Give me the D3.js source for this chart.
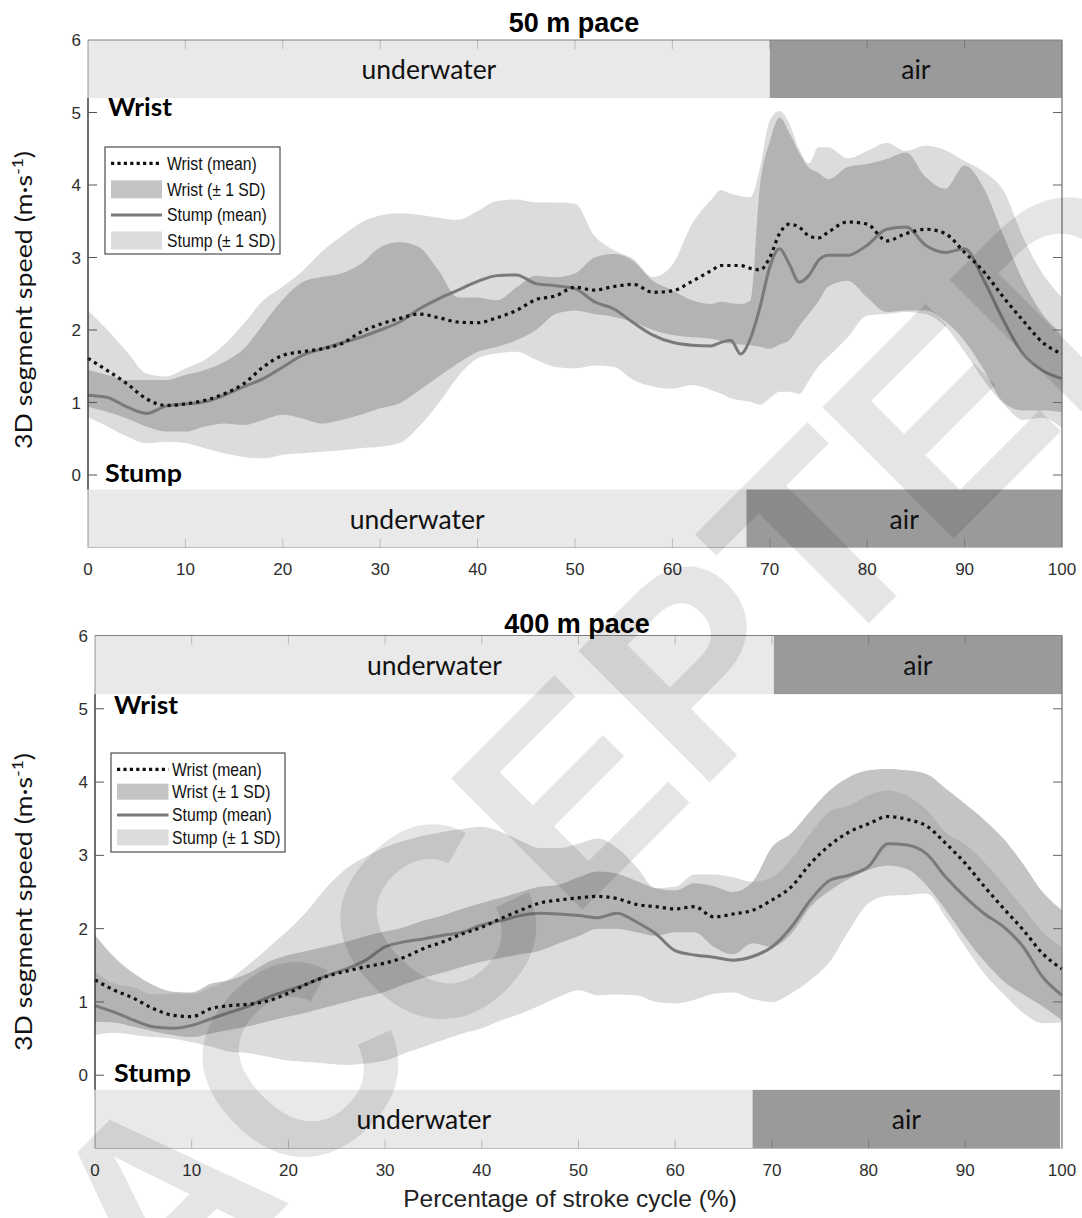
<!DOCTYPE html>
<html>
<head>
<meta charset="utf-8">
<script src="https://cdn.jsdelivr.net/npm/d3@7"></script>
<style>
  html, body { margin: 0; padding: 0; background: #fff; }
  svg { display: block; }
</style>
</head>
<body>
<svg id="chart" width="1082" height="1218"></svg>
<script>
// ---------------------------------------------------------------
// Segment speed (m/s) over the stroke cycle, mean and ±1 SD bands
// ---------------------------------------------------------------

const xTicks = [0, 10, 20, 30, 40, 50, 60, 70, 80, 90, 100];
const yTicks = [0, 1, 2, 3, 4, 5, 6];

// Phase strips: wrist strip above the data, stump strip below it
const wristStripRange = [5.2, 6];
const stumpStripRange = [-1, -0.2];
const phaseNames = ["underwater", "air"];

// ---- 50 m pace ----
const pace50AirStart = [70.0, 67.6];   // wrist, stump (% of cycle)
const pace50X = [0,2,4,6,8,10,12,14,16,18,20,22,24,26,28,30,32,34,36,38,40,42,44,46,48,50,52,54,56,58,60,62,64,
  65,66,67,68,69,70,71,72,73,74,75,
  76,78,80,82,84,86,88,90,92,94,96,98,100];
const pace50WristMean = [1.61,1.44,1.26,1.05,0.96,0.98,1.03,1.12,1.26,1.49,1.65,1.70,1.74,1.81,1.97,2.08,2.16,2.22,2.17,2.11,2.10,2.17,2.27,2.42,2.47,2.59,2.55,2.60,2.63,2.52,2.54,2.67,2.82,
  2.89,2.89,2.89,2.85,2.83,3.00,3.33,3.46,3.42,3.30,3.27,
  3.35,3.49,3.46,3.23,3.33,3.39,3.33,3.07,2.80,2.45,2.13,1.83,1.67];
const pace50WristLow = [0.94,0.87,0.78,0.67,0.60,0.60,0.67,0.71,0.69,0.76,0.83,0.78,0.71,0.76,0.83,0.92,0.99,1.17,1.36,1.54,1.70,1.77,1.86,2.00,2.22,2.27,2.22,2.18,2.11,2.00,1.93,1.90,1.88,
  1.85,1.81,1.80,1.79,1.77,1.74,1.80,1.86,2.05,2.22,2.40,
  2.60,2.68,2.45,2.25,2.27,2.27,2.12,1.85,1.45,1.00,0.89,0.89,0.87];
const pace50WristHigh = [1.45,1.38,1.31,1.31,1.31,1.38,1.45,1.56,1.74,2.08,2.42,2.66,2.73,2.78,2.91,3.14,3.21,3.14,2.82,2.45,2.45,2.41,2.59,2.75,2.73,2.78,3.00,3.05,2.95,2.68,2.55,2.41,2.36,
  2.39,2.37,2.36,2.40,4.00,4.60,4.93,4.72,4.45,4.24,4.17,
  4.08,4.25,4.29,4.36,4.45,4.11,3.95,4.27,3.95,3.30,2.68,2.22,1.95];
const pace50StumpMean = [1.10,1.07,0.94,0.85,0.95,0.98,1.01,1.10,1.22,1.33,1.49,1.65,1.74,1.82,1.90,2.00,2.11,2.29,2.43,2.55,2.67,2.75,2.76,2.64,2.61,2.57,2.39,2.29,2.10,1.93,1.83,1.79,1.78,
  1.83,1.86,1.67,1.88,2.32,2.87,3.12,2.91,2.66,2.75,2.96,
  3.03,3.03,3.17,3.39,3.42,3.17,3.07,3.12,2.68,2.13,1.67,1.44,1.33];
const pace50StumpLow = [0.80,0.67,0.53,0.44,0.46,0.44,0.37,0.30,0.25,0.23,0.28,0.30,0.32,0.34,0.37,0.39,0.44,0.67,0.99,1.36,1.61,1.68,1.70,1.59,1.49,1.47,1.51,1.49,1.31,1.22,1.19,1.24,1.17,
  1.12,1.06,1.03,1.01,0.97,1.06,1.15,1.15,1.12,1.30,1.50,
  1.63,1.90,2.20,2.22,2.25,2.22,2.05,1.70,1.30,0.98,0.76,0.79,0.65];
const pace50StumpHigh = [2.27,2.00,1.70,1.40,1.36,1.47,1.59,1.80,2.09,2.41,2.60,2.81,3.08,3.29,3.48,3.58,3.61,3.59,3.55,3.52,3.64,3.78,3.80,3.76,3.76,3.74,3.30,3.10,2.98,2.73,2.90,3.46,3.80,
  3.93,3.88,3.85,3.83,4.24,4.89,5.02,4.85,4.50,4.30,4.52,
  4.52,4.37,4.47,4.58,4.47,4.54,4.48,4.33,4.18,3.92,3.28,2.78,2.45];

// ---- 400 m pace ----
const pace400AirStart = [70.2, 68.0];  // wrist, stump (% of cycle)
const pace400StumpStripEnd = 99.8;
const pace400X = [0,2,4,6,8,10,12,14,16,18,20,22,24,26,28,30,32,34,36,38,40,42,44,46,48,50,
  52,54,56,58,60,62,64,66,68,70,72,74,76,78,80,82,84,86,88,90,92,94,96,98,100];
const pace400WristMean = [1.30,1.16,1.05,0.91,0.82,0.80,0.91,0.95,0.97,1.02,1.12,1.25,1.35,1.42,1.48,1.53,1.61,1.73,1.82,1.93,2.02,2.14,2.25,2.35,2.39,2.42,
  2.44,2.41,2.33,2.30,2.27,2.30,2.16,2.20,2.25,2.39,2.57,2.89,3.14,3.32,3.43,3.53,3.49,3.40,3.16,2.89,2.57,2.27,1.98,1.66,1.45];
const pace400WristLow = [0.73,0.72,0.66,0.60,0.55,0.52,0.57,0.62,0.67,0.74,0.80,0.86,0.93,1.00,1.07,1.14,1.24,1.33,1.40,1.48,1.55,1.60,1.65,1.70,1.80,1.90,
  2.00,2.00,1.95,1.90,1.95,1.95,1.75,1.65,1.80,1.75,1.93,2.30,2.52,2.68,2.80,2.86,2.81,2.59,2.25,1.88,1.55,1.28,1.10,0.94,0.75];
const pace400WristHigh = [1.91,1.61,1.39,1.23,1.14,1.13,1.25,1.30,1.40,1.55,1.64,1.70,1.76,1.82,1.90,1.96,2.02,2.11,2.18,2.27,2.35,2.42,2.50,2.57,2.60,2.70,
  2.78,2.75,2.65,2.55,2.52,2.62,2.58,2.50,2.64,3.11,3.30,3.61,3.89,4.07,4.16,4.18,4.16,4.11,3.91,3.70,3.48,3.22,2.88,2.50,2.25];
const pace400StumpMean = [0.95,0.86,0.75,0.66,0.64,0.68,0.77,0.86,0.95,1.07,1.16,1.25,1.36,1.45,1.57,1.75,1.82,1.86,1.91,1.95,2.05,2.11,2.18,2.21,2.20,2.18,
  2.15,2.21,2.09,1.93,1.70,1.64,1.61,1.57,1.62,1.75,2.02,2.39,2.66,2.73,2.85,3.16,3.14,3.02,2.70,2.43,2.20,2.02,1.75,1.34,1.09];
const pace400StumpLow = [0.55,0.58,0.55,0.52,0.50,0.45,0.39,0.32,0.30,0.25,0.20,0.18,0.16,0.14,0.16,0.20,0.30,0.39,0.48,0.57,0.64,0.75,0.84,0.95,1.07,1.16,
  1.09,1.10,1.09,1.00,0.98,1.03,1.11,1.13,1.04,1.00,1.12,1.30,1.55,1.98,2.35,2.45,2.46,2.48,2.15,1.75,1.38,1.10,0.85,0.71,0.72];
const pace400StumpHigh = [1.41,1.25,1.20,1.10,1.11,1.11,1.20,1.32,1.52,1.75,1.98,2.25,2.57,2.82,2.98,3.11,3.20,3.27,3.32,3.36,3.39,3.32,3.20,3.10,3.10,3.16,
  3.23,3.10,2.84,2.55,2.57,2.74,2.74,2.70,2.64,2.70,2.95,3.30,3.60,3.68,3.82,3.89,3.81,3.62,3.31,3.15,2.90,2.60,2.28,1.95,1.75];

const legendLabels = ["Wrist (mean)", "Wrist (\u00b1 1 SD)", "Stump (mean)", "Stump (\u00b1 1 SD)"];

// ---------------------------------------------------------------
const svg = d3.select("#chart");
const SANS = "'Liberation Sans', Arial, Helvetica, sans-serif";
const HUMANIST = "Lato, 'Open Sans', sans-serif";

const colors = {
  underwater: "#e9e9e9",
  air: "#9a9a9a",
  stumpBand: "#dcdcdc",
  wristBand: "rgba(137,137,137,0.5)",
  stumpLine: "#7a7a7a",
  wristLine: "#111111"
};

function zipSeries(xs, lo, hi) {
  return xs.map((v, i) => ({ x: v, lo: lo[i], hi: hi[i] }));
}
function zipLine(xs, ys) {
  return xs.map((v, i) => ({ x: v, y: ys[i] }));
}

function drawPanel(cfg) {
  const x = d3.scaleLinear().domain([0, 100]).range([cfg.left, cfg.right]);
  const y = d3.scaleLinear().domain([-1, 6]).range([cfg.bottom, cfg.top]);
  const g = svg.append("g");

  const band = d3.area()
    .x(d => x(d.x)).y0(d => y(d.lo)).y1(d => y(d.hi))
    .curve(d3.curveMonotoneX);
  const line = d3.line()
    .x(d => x(d.x)).y(d => y(d.y))
    .curve(d3.curveMonotoneX);

  // ±1 SD bands
  g.append("path").datum(zipSeries(cfg.xs, cfg.stumpLow, cfg.stumpHigh))
    .attr("d", band).attr("fill", colors.stumpBand);
  g.append("path").datum(zipSeries(cfg.xs, cfg.wristLow, cfg.wristHigh))
    .attr("d", band).attr("fill", colors.wristBand);

  // Means
  g.append("path").datum(zipLine(cfg.xs, cfg.stumpMean))
    .attr("d", line).attr("fill", "none")
    .attr("stroke", colors.stumpLine).attr("stroke-width", 3)
    .attr("stroke-linejoin", "round");
  g.append("path").datum(zipLine(cfg.xs, cfg.wristMean))
    .attr("d", line).attr("fill", "none")
    .attr("stroke", colors.wristLine).attr("stroke-width", 3.2)
    .attr("stroke-dasharray", "3.2,4");

  // Phase strips
  const strips = [
    { range: wristStripRange, split: cfg.airStart[0], end: 100 },
    { range: stumpStripRange, split: cfg.airStart[1], end: cfg.stumpStripEnd }
  ];
  strips.forEach(s => {
    const y0 = y(s.range[1]), y1 = y(s.range[0]);
    const segs = [
      { name: phaseNames[0], a: 0, b: s.split, fill: colors.underwater },
      { name: phaseNames[1], a: s.split, b: s.end, fill: colors.air }
    ];
    segs.forEach(seg => {
      g.append("rect")
        .attr("x", x(seg.a)).attr("y", y0)
        .attr("width", x(seg.b) - x(seg.a)).attr("height", y1 - y0)
        .attr("fill", seg.fill);
      g.append("text")
        .attr("x", (x(seg.a) + x(seg.b)) / 2)
        .attr("y", (y0 + y1) / 2 + 10)
        .attr("text-anchor", "middle")
        .attr("font-family", HUMANIST)
        .attr("font-size", 26.5)
        .attr("fill", "#111")
        .text(seg.name);
    });
  });

  // Axes box
  const L = x(0), R = x(100), T = y(6), B = y(-1);
  g.append("line").attr("x1", L).attr("x2", L).attr("y1", T).attr("y2", B)
    .attr("stroke", "rgba(0,0,0,0.3)").attr("stroke-width", 1.3);
  g.append("line").attr("x1", L).attr("x2", L)
    .attr("y1", y(wristStripRange[0])).attr("y2", y(stumpStripRange[1]))
    .attr("stroke", "#3c3c3c").attr("stroke-width", 1.3);
  g.append("line").attr("x1", R).attr("x2", R).attr("y1", T).attr("y2", B)
    .attr("stroke", "#777").attr("stroke-width", 1.3);
  g.append("line").attr("x1", L).attr("x2", R).attr("y1", T).attr("y2", T)
    .attr("stroke", "#808080").attr("stroke-width", 1.2);
  g.append("line").attr("x1", L).attr("x2", R).attr("y1", B).attr("y2", B)
    .attr("stroke", "#bdbdbd").attr("stroke-width", 1.2);

  const tickLen = 9;
  xTicks.slice(1, -1).forEach(t => {
    g.append("line").attr("x1", x(t)).attr("x2", x(t)).attr("y1", T).attr("y2", T + tickLen)
      .attr("stroke", "rgba(0,0,0,0.2)").attr("stroke-width", 1);
    g.append("line").attr("x1", x(t)).attr("x2", x(t)).attr("y1", B).attr("y2", B - tickLen)
      .attr("stroke", "rgba(0,0,0,0.2)").attr("stroke-width", 1);
  });
  yTicks.filter(t => t < 6).forEach(t => {
    g.append("line").attr("x1", L).attr("x2", L + tickLen).attr("y1", y(t)).attr("y2", y(t))
      .attr("stroke", "#555").attr("stroke-width", 1);
    g.append("line").attr("x1", R).attr("x2", R - tickLen).attr("y1", y(t)).attr("y2", y(t))
      .attr("stroke", "#666").attr("stroke-width", 1);
  });

  // Tick labels
  g.selectAll(".xt").data(xTicks).enter().append("text")
    .attr("x", d => x(d)).attr("y", B + 27)
    .attr("text-anchor", "middle")
    .attr("font-family", SANS).attr("font-size", 17).attr("fill", "#2e2e2e")
    .text(d => d);
  g.selectAll(".yt").data(yTicks).enter().append("text")
    .attr("x", L - 7).attr("y", d => y(d) + 6)
    .attr("text-anchor", "end")
    .attr("font-family", SANS).attr("font-size", 17).attr("fill", "#2e2e2e")
    .text(d => d);

  // Title
  g.append("text")
    .attr("x", cfg.titleX).attr("y", cfg.titleY)
    .attr("text-anchor", "middle")
    .attr("font-family", SANS).attr("font-weight", "bold").attr("font-size", 27)
    .attr("fill", "#000")
    .text(cfg.title);

  // Segment labels
  g.append("text").attr("x", cfg.wristLabel[0]).attr("y", cfg.wristLabel[1])
    .attr("font-family", HUMANIST).attr("font-weight", "bold").attr("font-size", 24)
    .attr("textLength", 64).attr("lengthAdjust", "spacingAndGlyphs")
    .attr("fill", "#000").text("Wrist");
  g.append("text").attr("x", cfg.stumpLabel[0]).attr("y", cfg.stumpLabel[1])
    .attr("font-family", HUMANIST).attr("font-weight", "bold").attr("font-size", 24)
    .attr("textLength", 77).attr("lengthAdjust", "spacingAndGlyphs")
    .attr("fill", "#000").text("Stump");

  // Y axis title
  const yt = g.append("text")
    .attr("transform", `translate(32,${cfg.yTitleCenter}) rotate(-90)`)
    .attr("text-anchor", "middle")
    .attr("font-family", HUMANIST).attr("font-size", 23)
    .attr("fill", "#111")
    .attr("textLength", 298).attr("lengthAdjust", "spacingAndGlyphs");
  yt.append("tspan").text("3D segment speed (m\u00b7s");
  yt.append("tspan").attr("baseline-shift", "super").attr("font-size", 15).text("-1");
  yt.append("tspan").text(")");

  // Legend
  const lg = cfg.legend;
  const lgG = g.append("g");
  lgG.append("rect")
    .attr("x", lg.x).attr("y", lg.y).attr("width", lg.w).attr("height", lg.h)
    .attr("fill", "#fff").attr("stroke", "#4d4d4d").attr("stroke-width", 1.2);
  legendLabels.forEach((lab, i) => {
    const cy = lg.rows[i];
    if (i === 0) {
      lgG.append("line").attr("x1", lg.sx0).attr("x2", lg.sx1).attr("y1", cy).attr("y2", cy)
        .attr("stroke", colors.wristLine).attr("stroke-width", 3.2).attr("stroke-dasharray", "3.2,3.2");
    } else if (i === 2) {
      lgG.append("line").attr("x1", lg.sx0).attr("x2", lg.sx1).attr("y1", cy).attr("y2", cy)
        .attr("stroke", colors.stumpLine).attr("stroke-width", 3.2);
    } else {
      lgG.append("rect").attr("x", lg.sx0).attr("y", cy - lg.sh / 2)
        .attr("width", lg.sx1 - lg.sx0).attr("height", lg.sh)
        .attr("fill", i === 1 ? "#c4c4c4" : colors.stumpBand);
    }
    lgG.append("g").attr("transform", `translate(${lg.tx},${cy + 6.3}) scale(0.875,1)`)
      .append("text")
      .attr("font-family", SANS).attr("font-size", 18).attr("fill", "#111")
      .text(lab);
  });
}

drawPanel({
  title: "50 m pace", titleX: 574, titleY: 32,
  left: 88, right: 1062, top: 40, bottom: 547.5,
  xs: pace50X,
  wristMean: pace50WristMean, wristLow: pace50WristLow, wristHigh: pace50WristHigh,
  stumpMean: pace50StumpMean, stumpLow: pace50StumpLow, stumpHigh: pace50StumpHigh,
  airStart: pace50AirStart, stumpStripEnd: 100,
  wristLabel: [108, 116], stumpLabel: [105, 482],
  yTitleCenter: 300,
  legend: { x: 105, y: 147, w: 175, h: 107, rows: [163.3, 189.3, 215, 240.5],
            sx0: 111, sx1: 162, sh: 18, tx: 167 }
});

drawPanel({
  title: "400 m pace", titleX: 577, titleY: 633,
  left: 95, right: 1062, top: 635.5, bottom: 1148.5,
  xs: pace400X,
  wristMean: pace400WristMean, wristLow: pace400WristLow, wristHigh: pace400WristHigh,
  stumpMean: pace400StumpMean, stumpLow: pace400StumpLow, stumpHigh: pace400StumpHigh,
  airStart: pace400AirStart, stumpStripEnd: pace400StumpStripEnd,
  wristLabel: [114, 714], stumpLabel: [114, 1082],
  yTitleCenter: 902,
  legend: { x: 111, y: 753, w: 174, h: 99, rows: [769.3, 791.7, 815, 837.3],
            sx0: 117, sx1: 168.5, sh: 16, tx: 172 }
});

// Shared x axis title
svg.append("text")
  .attr("x", 570).attr("y", 1207)
  .attr("text-anchor", "middle")
  .attr("font-family", SANS).attr("font-size", 24.5).attr("fill", "#222")
  .text("Percentage of stroke cycle (%)");

// Manuscript stamp across the figure
svg.append("text")
  .attr("transform", "translate(615,745) rotate(-45)")
  .attr("text-anchor", "middle")
  .attr("dominant-baseline", "central")
  .attr("font-family", SANS).attr("font-weight", "bold").attr("font-size", 270)
  .attr("fill", "#000").attr("fill-opacity", 0.1)
  .text("ACCEPTED");
</script>
</body>
</html>
